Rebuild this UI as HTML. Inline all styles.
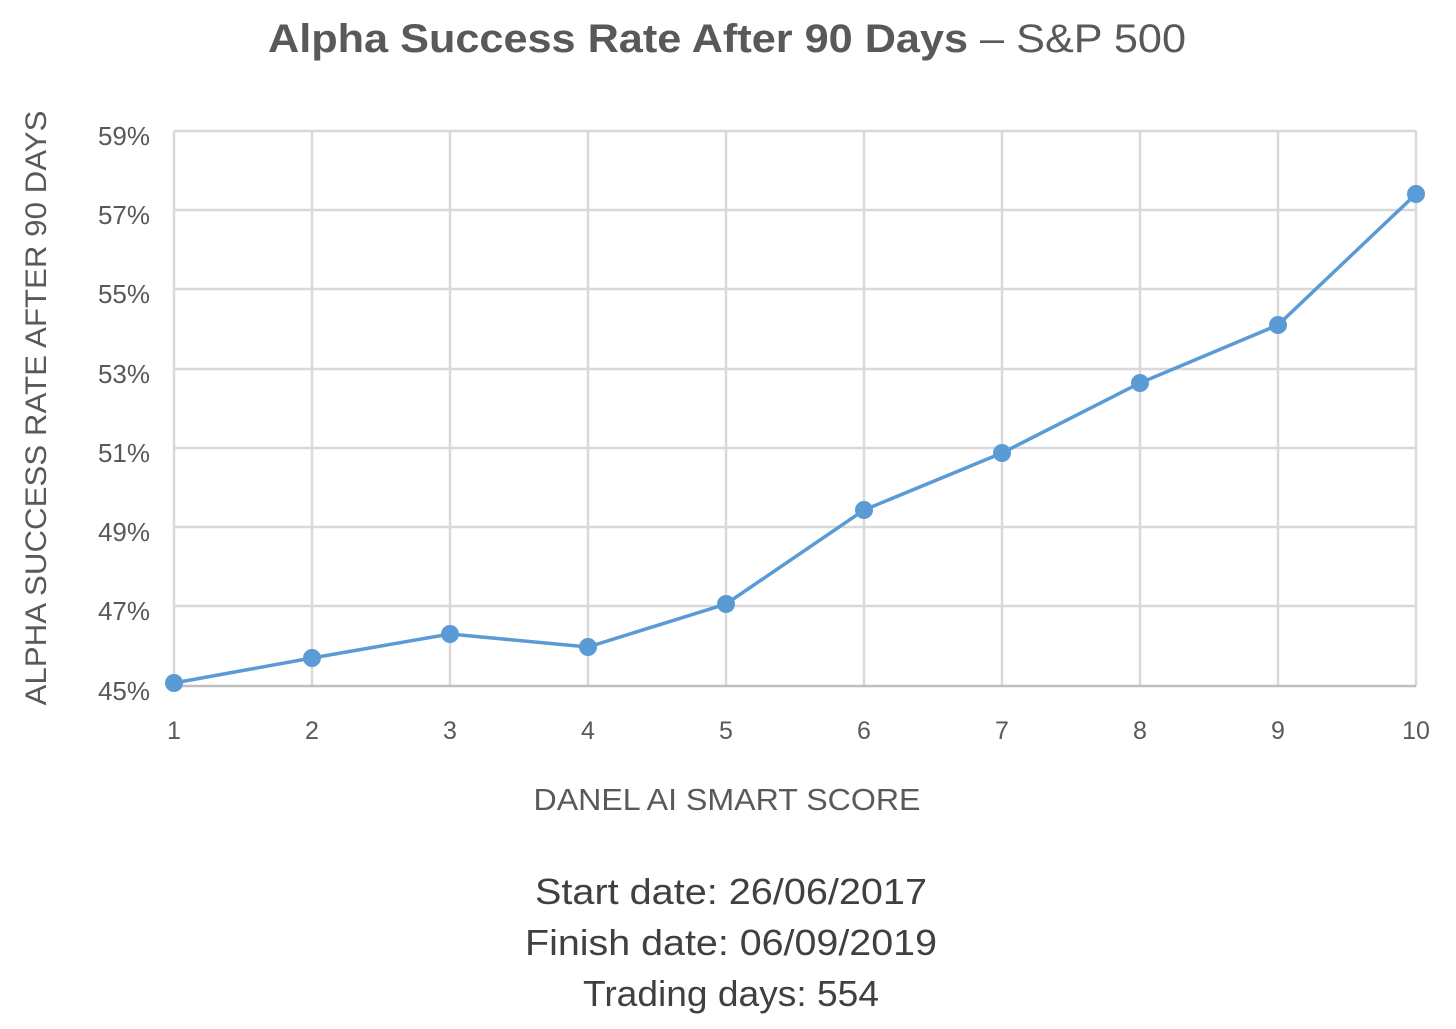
<!DOCTYPE html>
<html><head><meta charset="utf-8"><style>
html,body{margin:0;padding:0;background:#fff;}
</style></head><body>
<svg width="1456" height="1024" xmlns="http://www.w3.org/2000/svg" font-family="Liberation Sans, sans-serif">
<rect width="1456" height="1024" fill="#fff"/>
<text x="268" y="52" font-size="40" fill="#595959" textLength="918" lengthAdjust="spacingAndGlyphs"><tspan font-weight="bold">Alpha Success Rate After 90 Days</tspan> – S&amp;P 500</text>
<g stroke="#d9d9d9" stroke-width="2.5">
<line x1="174" y1="131" x2="1416" y2="131"/>
<line x1="174" y1="210" x2="1416" y2="210"/>
<line x1="174" y1="289" x2="1416" y2="289"/>
<line x1="174" y1="369" x2="1416" y2="369"/>
<line x1="174" y1="448" x2="1416" y2="448"/>
<line x1="174" y1="527" x2="1416" y2="527"/>
<line x1="174" y1="606" x2="1416" y2="606"/>
<line x1="174" y1="131" x2="174" y2="686"/>
<line x1="312" y1="131" x2="312" y2="686"/>
<line x1="450" y1="131" x2="450" y2="686"/>
<line x1="588" y1="131" x2="588" y2="686"/>
<line x1="726" y1="131" x2="726" y2="686"/>
<line x1="864" y1="131" x2="864" y2="686"/>
<line x1="1002" y1="131" x2="1002" y2="686"/>
<line x1="1140" y1="131" x2="1140" y2="686"/>
<line x1="1278" y1="131" x2="1278" y2="686"/>
<line x1="1416" y1="131" x2="1416" y2="686"/>
</g>
<line x1="174" y1="686" x2="1416" y2="686" stroke="#bfbfbf" stroke-width="2.5"/>
<g font-size="26" fill="#595959" text-anchor="end">
<text x="150" y="145">59%</text><text x="150" y="224">57%</text><text x="150" y="303">55%</text>
<text x="150" y="383">53%</text><text x="150" y="462">51%</text><text x="150" y="541">49%</text>
<text x="150" y="620">47%</text><text x="150" y="700">45%</text>
</g>
<g font-size="25" fill="#595959" text-anchor="middle">
<text x="174" y="739">1</text><text x="312" y="739">2</text><text x="450" y="739">3</text><text x="588" y="739">4</text><text x="726" y="739">5</text><text x="864" y="739">6</text><text x="1002" y="739">7</text><text x="1140" y="739">8</text><text x="1278" y="739">9</text><text x="1416" y="739">10</text>
</g>
<text transform="translate(46,408) rotate(-90)" text-anchor="middle" font-size="30" fill="#595959" textLength="595" lengthAdjust="spacingAndGlyphs">ALPHA SUCCESS RATE AFTER 90 DAYS</text>
<text x="727" y="810" text-anchor="middle" font-size="31" fill="#595959" textLength="387" lengthAdjust="spacingAndGlyphs">DANEL AI SMART SCORE</text>
<polyline fill="none" stroke="#5b9bd5" stroke-width="3.5" points="174,683 312,658 450,634 588,647 726,604 864,510 1002,453 1140,383 1278,325 1416,194"/>
<g fill="#5b9bd5">
<circle cx="174" cy="683" r="9"/><circle cx="312" cy="658" r="9"/><circle cx="450" cy="634" r="9"/><circle cx="588" cy="647" r="9"/><circle cx="726" cy="604" r="9"/><circle cx="864" cy="510" r="9"/><circle cx="1002" cy="453" r="9"/><circle cx="1140" cy="383" r="9"/><circle cx="1278" cy="325" r="9"/><circle cx="1416" cy="194" r="9"/>
</g>
<g font-size="36" fill="#404040" text-anchor="middle">
<text x="731" y="904" textLength="392" lengthAdjust="spacingAndGlyphs">Start date: 26/06/2017</text>
<text x="731" y="955" textLength="412" lengthAdjust="spacingAndGlyphs">Finish date: 06/09/2019</text>
<text x="731" y="1006" textLength="296" lengthAdjust="spacingAndGlyphs">Trading days: 554</text>
</g>
</svg>
</body></html>
